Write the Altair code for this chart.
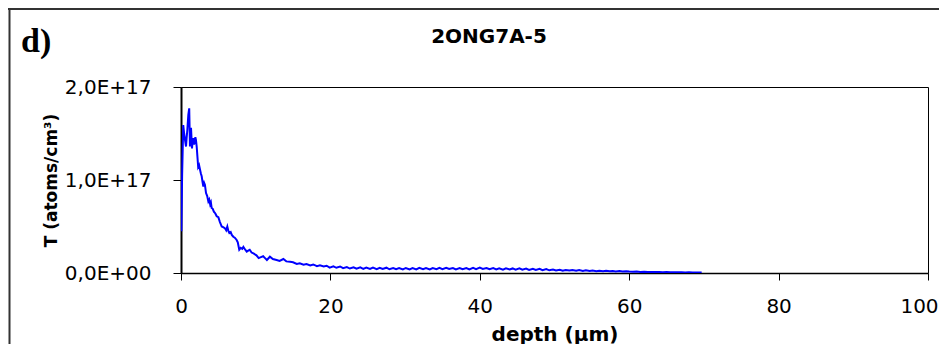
import altair as alt
import pandas as pd

# ---- data ----
depth_um = [
    0.05, 0.15, 0.3, 0.42, 0.54, 0.67, 0.76, 0.85, 0.98, 1.1,
    1.2, 1.34, 1.47, 1.56, 1.65, 1.75, 1.83, 1.92, 2.0, 2.1,
    2.2, 2.3, 2.42, 2.55, 2.66, 2.77, 2.88, 2.99, 3.1, 3.2,
    3.35, 3.5, 3.66, 3.78, 3.9, 4.0, 4.1, 4.25, 4.4, 4.6,
    4.78, 5.0, 5.2, 5.45, 5.7, 5.9, 6.05, 6.2, 6.35, 6.47,
    6.65, 6.8, 7.0, 7.2, 7.45, 7.6, 7.8, 8.0, 8.2, 8.35,
    8.6, 8.8, 9.0, 9.2, 9.45, 9.7, 10.1, 10.4, 10.7, 11.0,
    11.25, 11.5, 11.9, 12.3, 12.8, 13.2, 13.7, 14.1, 14.6, 15.0,
    15.5, 15.9, 16.4, 16.8, 17.3, 17.7, 18.2, 18.6, 19.1, 19.5,
    19.9, 20.4, 20.8, 21.3, 21.7, 22.2, 22.6, 23.1, 23.5, 24.0,
    24.4, 24.8, 25.3, 25.7, 26.2, 26.6, 27.0, 27.5, 27.9, 28.4,
    28.8, 29.2, 29.7, 30.1, 30.6, 31.0, 31.5, 31.9, 32.4, 32.8,
    33.3, 33.7, 34.2, 34.6, 35.0, 35.5, 35.9, 36.4, 36.8, 37.3,
    37.7, 38.2, 38.6, 39.1, 39.5, 40.0, 40.4, 40.9, 41.3, 41.8,
    42.2, 42.6, 43.1, 43.5, 44.0, 44.4, 44.8, 45.3, 45.7, 46.2,
    46.6, 47.1, 47.5, 48.0, 48.4, 48.9, 49.3, 49.8, 50.2, 50.7,
    51.1, 51.5, 52.0, 52.4, 52.9, 53.3, 53.8, 54.2, 54.7, 55.1,
    55.6, 56.0, 56.5, 56.9, 57.4, 57.8, 58.2, 58.7, 59.1, 59.6,
    60.0, 60.5, 61.0, 61.5, 62.0, 62.5, 63.0, 63.5, 64.0, 64.5,
    65.0, 65.5, 66.0, 66.5, 67.0, 67.5, 68.0, 68.5, 69.0, 69.7,
]
# T in units of 1E+17 atoms/cm3
t_e17 = [
    0.45, 1.05, 1.59, 1.50, 1.43, 1.36, 1.46, 1.54, 1.70, 1.77,
    1.36, 1.56, 1.34, 1.42, 1.45, 1.38, 1.41, 1.46, 1.43, 1.36,
    1.25, 1.14, 1.16, 1.11, 1.07, 1.04, 0.98, 0.93, 0.97, 0.95,
    0.86, 0.83, 0.77, 0.79, 0.74, 0.76, 0.70, 0.69, 0.66, 0.64,
    0.61, 0.60, 0.55, 0.50, 0.49, 0.48, 0.46, 0.50, 0.45, 0.43,
    0.44, 0.41, 0.39, 0.38, 0.355, 0.33, 0.25, 0.27, 0.26, 0.28,
    0.25, 0.23, 0.24, 0.25, 0.22, 0.21, 0.19, 0.16, 0.17, 0.18,
    0.16, 0.14, 0.175, 0.15, 0.14, 0.13, 0.15, 0.125, 0.12, 0.115,
    0.098, 0.105, 0.09, 0.097, 0.082, 0.092, 0.074, 0.083, 0.07, 0.078,
    0.058, 0.072, 0.056, 0.07, 0.052, 0.064, 0.048, 0.062, 0.046, 0.06,
    0.045, 0.059, 0.043, 0.058, 0.042, 0.056, 0.043, 0.057, 0.04, 0.054,
    0.04, 0.053, 0.038, 0.054, 0.039, 0.053, 0.038, 0.055, 0.04, 0.052,
    0.038, 0.053, 0.041, 0.055, 0.042, 0.057, 0.044, 0.054, 0.039, 0.053,
    0.04, 0.052, 0.038, 0.056, 0.042, 0.058, 0.044, 0.054, 0.04, 0.052,
    0.039, 0.051, 0.036, 0.05, 0.037, 0.049, 0.036, 0.05, 0.035, 0.047,
    0.033, 0.046, 0.033, 0.044, 0.03, 0.042, 0.029, 0.038, 0.028, 0.035,
    0.025, 0.033, 0.026, 0.032, 0.024, 0.031, 0.023, 0.029, 0.022, 0.027,
    0.02, 0.025, 0.019, 0.024, 0.018, 0.022, 0.017, 0.021, 0.016, 0.019,
    0.015, 0.014, 0.015, 0.012, 0.013, 0.011, 0.012, 0.01, 0.011, 0.009,
    0.01, 0.008, 0.009, 0.007, 0.008, 0.006, 0.007, 0.006, 0.005, 0.005,
]

x_ticks = [0, 20, 40, 60, 80, 100]
y_ticks = [0, 1e17, 2e17]
y_tick_labels = ["0,0E+00", "1,0E+17", "2,0E+17"]
chart_title = "2ONG7A-5"
panel_label = "d)"
x_title = "depth (\u03bcm)"
y_title = "T (atoms/cm\u00b3)"

df = pd.DataFrame({"depth": depth_um, "T": [v * 1e17 for v in t_e17]})

W, H = 747, 186
PAD = {"left": 173, "top": 79, "right": 11, "bottom": 71}

label_expr = "[" + ",".join(f"'{s}'" for s in y_tick_labels) + "][round(datum.value / 1e17)]"

line = alt.Chart(df).mark_line(color="#0000FF", strokeWidth=2, clip=True).encode(
    x=alt.X(
        "depth:Q",
        scale=alt.Scale(domain=[0, 100], nice=False, zero=True),
        axis=alt.Axis(
            values=x_ticks, title=x_title, grid=False,
            labelFont="DejaVu Sans", labelFontSize=20, labelColor="black",
            labelPadding=16, labelFlush=False, labelOverlap=False,
            labelOffset={"condition": {"test": "datum.value == 100", "value": -9}, "value": 0},
            tickSize=7, tickColor="black", tickWidth=1,
            domainColor="black", domainWidth=1.5,
            titleFont="DejaVu Sans", titleFontSize=20, titleFontWeight="bold",
            titleColor="black", titleY=67, titleBaseline="alphabetic",
        ),
    ),
    y=alt.Y(
        "T:Q",
        scale=alt.Scale(domain=[0, 2e17], nice=False),
        axis=alt.Axis(
            values=y_ticks, labelExpr=label_expr, title=y_title, grid=False,
            labelFont="DejaVu Sans", labelFontSize=20, labelColor="black",
            labelPadding=22, labelOverlap=False, labelFlush=False,
            tickSize=8, tickColor="black", tickWidth=1,
            domainColor="black", domainWidth=2,
            titleFont="DejaVu Sans", titleFontSize=17, titleFontWeight="bold",
            titleColor="black", titleAngle=270, titleX=-125, titleY=H / 2,
            titleBaseline="alphabetic", titleAlign="center",
        ),
    ),
)

title_mark = alt.Chart(pd.DataFrame({"t": [chart_title]})).mark_text(
    font="DejaVu Sans", fontSize=20, fontWeight="bold", color="black",
    align="center", baseline="alphabetic",
).encode(text="t:N", x=alt.value(308), y=alt.value(-44))

panel_mark = alt.Chart(pd.DataFrame({"t": [panel_label]})).mark_text(
    font="Liberation Serif", fontSize=34, fontWeight="bold", color="black",
    align="left", baseline="alphabetic",
).encode(text="t:N", x=alt.value(-160), y=alt.value(-35))

border_top = alt.Chart(pd.DataFrame({"a": [0]})).mark_rule(color="#333333", strokeWidth=2).encode(
    x=alt.value(-173), x2=alt.value(W + PAD["right"]), y=alt.value(-78)
)
border_left = alt.Chart(pd.DataFrame({"a": [0]})).mark_rule(color="#333333", strokeWidth=2).encode(
    x=alt.value(-171.5), y=alt.value(-79), y2=alt.value(H + PAD["bottom"])
)

chart = alt.layer(border_top, border_left, line, title_mark, panel_mark).properties(
    width=W, height=H,
    autosize=alt.AutoSizeParams(type="none"),
    padding=PAD,
    background="white",
).configure_view(stroke="black", strokeWidth=1)

chart.save("out.html", embed_options={"renderer": "svg", "actions": False})
